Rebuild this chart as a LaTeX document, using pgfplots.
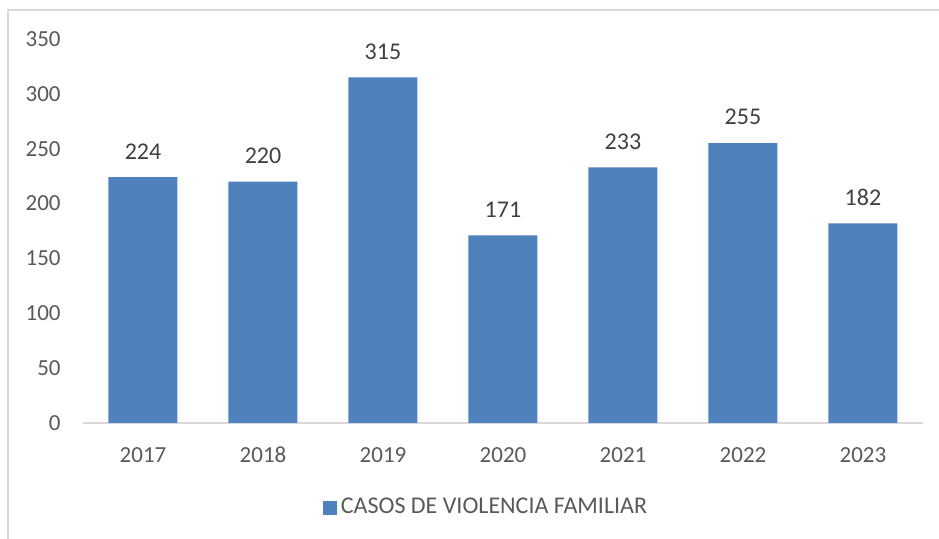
\documentclass[border=0pt]{standalone}
\usepackage{pgfplots}
\pgfplotsset{compat=1.18}
\usepackage{fontspec}
\setmainfont{Carlito}
\definecolor{barblue}{HTML}{4F81BD}
\definecolor{axgray}{HTML}{D9D9D9}
\definecolor{txtgray}{HTML}{595959}
\definecolor{lblgray}{HTML}{404040}
\begin{document}
\fontsize{11}{13}\selectfont
\begin{tikzpicture}
\useasboundingbox (0,0) rectangle (469.5pt,-269.5pt);
\draw[axgray, line width=0.8pt] (4pt,-269.5pt) -- (4pt,-5pt) -- (469.5pt,-5pt);
\begin{axis}[
  at={(41.5pt,-211.5pt)}, anchor=south west,
  scale only axis, width=420pt, height=192pt,
  ymin=0, ymax=350, xmin=-0.5, xmax=6.5,
  axis x line*=bottom, axis y line=none,
  x axis line style={axgray, line width=0.8pt, -},
  ytick={0,50,...,350},
  xtick=data,
  xticklabels={2017,2018,2019,2020,2021,2022,2023},
  major tick length=0pt,
  /pgf/number format/assume math mode=true,
  tick label style={font=\fontsize{11.5}{13}\selectfont, text=txtgray},
  xticklabel style={anchor=center, yshift=-16pt, inner sep=0pt},
  ytick style={draw=none},
  ybar, bar width=0.575,
  nodes near coords,
  every node near coord/.append style={anchor=center, yshift=13pt, font=\fontsize{12}{14}\selectfont, text=lblgray},
  legend style={at={(0.481,-0.221)}, anchor=center, draw=none, fill=none,
    font=\fontsize{12}{14}\selectfont, text=txtgray, inner sep=0pt},
  clip=false,
]
\addplot[fill=barblue, draw=none,
  legend image code/.code={\fill[barblue] (0pt,-3.5pt) rectangle (7pt,3.5pt);}] coordinates {
 (0,224) (1,220) (2,315) (3,171) (4,233) (5,255) (6,182)
};
\addlegendentry{CASOS DE VIOLENCIA FAMILIAR}
\end{axis}
\begin{axis}[
  at={(41.5pt,-211.5pt)}, anchor=south west,
  scale only axis, width=420pt, height=192pt,
  ymin=0, ymax=350, xmin=-0.5, xmax=6.5,
  axis x line=none, axis y line*=left,
  y axis line style={draw=none},
  ytick={0,50,...,350}, major tick length=0pt,
  /pgf/number format/assume math mode=true,
  yticklabel style={font=\fontsize{11.5}{13}\selectfont, text=txtgray, anchor=east, inner sep=0pt, xshift=-11pt},
]
\end{axis}
\end{tikzpicture}
\end{document}
